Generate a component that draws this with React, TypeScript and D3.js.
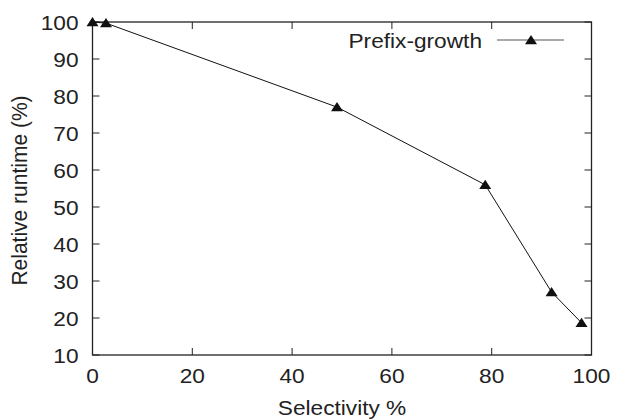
import React from 'react';
import * as d3 from 'd3';

const selectivity = [0, 2.7, 49, 78.7, 92, 98];
const runtime = [100, 99.7, 77, 56, 27, 18.7];
const xTicks = [0, 20, 40, 60, 80, 100];
const yTicks = [10, 20, 30, 40, 50, 60, 70, 80, 90, 100];
const seriesName = 'Prefix-growth';

const W = 617;
const H = 419;
const margin = { left: 92.5, right: 25.5, top: 22, bottom: 64 };
const font = 'Liberation Sans, Arial, Helvetica, sans-serif';
const ink = '#222';
const stretch = 1.08; // the original picture is a bit wider than tall

function triangle(cx: number, cy: number, s = 6) {
  return `M${cx},${cy - s * 0.85} L${cx + s},${cy + s * 0.7} L${cx - s},${cy + s * 0.7} Z`;
}

function Label({ x, y, anchor = 'start', dy, children }: any) {
  return (
    <text transform={`translate(${x},${y}) scale(${stretch},1)`} textAnchor={anchor} dy={dy}>
      {children}
    </text>
  );
}

export default function App() {
  const x = d3.scaleLinear().domain([0, 100]).range([margin.left, W - margin.right]);
  const y = d3.scaleLinear().domain([10, 100]).range([H - margin.bottom, margin.top]);

  const pts = selectivity.map((s, i) => [s, runtime[i]] as [number, number]);
  const line = d3.line<[number, number]>().x(d => x(d[0])).y(d => y(d[1]));

  const x0 = x(0), x1 = x(100), y0 = y(10), y1 = y(100);
  const tick = 7;

  return (
    <svg width={W} height={H} style={{ position: 'absolute', left: 0, top: 0, background: '#fff' }}>
      <g fontFamily={font} fontSize={21} fill={ink}>
        {xTicks.map(t => (
          <g key={'x' + t}>
            <line x1={x(t)} x2={x(t)} y1={y0} y2={y0 - tick} stroke={ink} strokeWidth={1} />
            <line x1={x(t)} x2={x(t)} y1={y1} y2={y1 + tick} stroke={ink} strokeWidth={1} />
            <Label x={x(t)} y={y0 + 28} anchor="middle">{t}</Label>
          </g>
        ))}
        {yTicks.map(t => (
          <g key={'y' + t}>
            <line x1={x0} x2={x0 + tick} y1={y(t)} y2={y(t)} stroke={ink} strokeWidth={1} />
            <line x1={x1} x2={x1 - tick} y1={y(t)} y2={y(t)} stroke={ink} strokeWidth={1} />
            <Label x={x0 - 14} y={y(t)} dy="0.36em" anchor="end">{t}</Label>
          </g>
        ))}
        <rect x={x0} y={y1} width={x1 - x0} height={y0 - y1} fill="none" stroke={ink} strokeWidth={1.3} />
        <Label x={(x0 + x1) / 2} y={415} anchor="middle">Selectivity %</Label>
        <text transform={`translate(27,${(y0 + y1) / 2 + 2}) rotate(-90) scale(1,${stretch})`} textAnchor="middle">Relative runtime (%)</text>

        <path d={line(pts) ?? ''} fill="none" stroke="#111" strokeWidth={1} />
        {pts.map((p, i) => (
          <path key={i} d={triangle(x(p[0]), y(p[1]))} fill="#111" />
        ))}

        <Label x={482} y={40} dy="0.36em" anchor="end">{seriesName}</Label>
        <line x1={497} x2={564} y1={40} y2={40} stroke="#555" strokeWidth={1} />
        <path d={triangle(531, 40)} fill="#111" />
      </g>
    </svg>
  );
}
